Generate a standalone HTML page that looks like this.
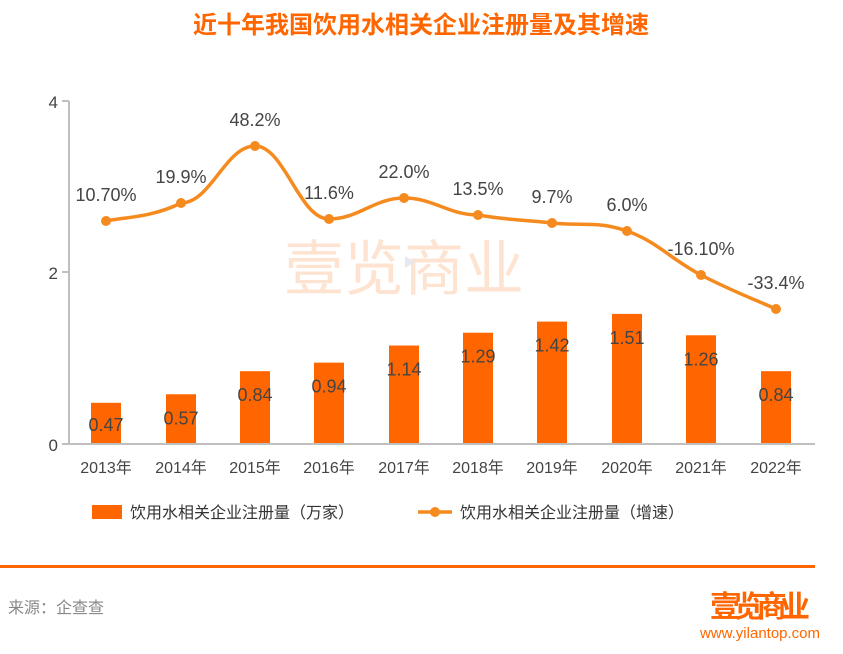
<!DOCTYPE html>
<html><head><meta charset="utf-8"><style>
body{margin:0;width:843px;height:649px;background:#fff;overflow:hidden;font-family:"Liberation Sans","Noto Sans CJK SC",sans-serif}
</style></head><body>
<svg width="843" height="649" xmlns="http://www.w3.org/2000/svg" font-family="Liberation Sans, Noto Sans CJK SC, sans-serif">
<text x="421" y="33" text-anchor="middle" font-size="24" font-weight="bold" fill="#ff6600" font-family="Noto Sans CJK SC, sans-serif">近十年我国饮用水相关企业注册量及其增速</text>
<g font-family="Noto Sans CJK SC, sans-serif" font-size="60" fill="#fde0cc" opacity="0.9">
<text x="284" y="290">壹览商业</text>
</g>
<polygon points="405,256 405,268 415,262" fill="#e8e8f0"/>
<line x1="69" y1="101" x2="69" y2="444" stroke="#bfbfbf" stroke-width="2"/>
<line x1="62" y1="101" x2="69" y2="101" stroke="#bfbfbf" stroke-width="2"/>
<line x1="62" y1="272" x2="69" y2="272" stroke="#bfbfbf" stroke-width="2"/>
<line x1="62" y1="444" x2="815" y2="444" stroke="#bfbfbf" stroke-width="2"/>
<g font-size="17" fill="#444" text-anchor="end">
<text x="58" y="108">4</text><text x="58" y="279">2</text><text x="58" y="451">0</text>
</g>
<g id="bars" fill="#ff6600"></g>
<g id="barlbl" font-size="18" fill="#444" text-anchor="middle"></g>
<g id="xl" font-size="16" fill="#444" text-anchor="middle" font-family="Liberation Sans, Noto Sans CJK SC, sans-serif"></g>
<path id="ln" fill="none" stroke="#f58a1f" stroke-width="3.5"/>
<g id="dots" fill="#f58a1f"></g>
<g id="pl" font-size="18" fill="#444" text-anchor="middle"></g>
<rect x="92" y="505" width="30" height="14" fill="#ff6600"/>
<text x="130" y="518" font-size="16" fill="#333">饮用水相关企业注册量（万家）</text>
<line x1="418" y1="512" x2="452" y2="512" stroke="#f58a1f" stroke-width="3.5"/>
<circle cx="435" cy="512" r="5" fill="#f58a1f"/>
<text x="460" y="518" font-size="16" fill="#333">饮用水相关企业注册量（增速）</text>
<rect x="0" y="565" width="815" height="3" fill="#ff6600"/>
<text x="8" y="613" font-size="16" fill="#888">来源：企查查</text>
<text x="710" y="617" font-size="30" font-weight="bold" fill="#ff6600" font-family="Noto Sans CJK SC, sans-serif" textLength="100">壹览商业</text>
<text x="760" y="638" text-anchor="middle" font-size="15" fill="#ff6600">www.yilantop.com</text>
</svg>
<script>
var xs=[106,181,255,329,404,478,552,627,701,776];
var bv=[0.47,0.57,0.84,0.94,1.14,1.29,1.42,1.51,1.26,0.84];
var ly=[221,203,146,219,198,215,223,231,275,309];
var pt=["10.70%","19.9%","48.2%","11.6%","22.0%","13.5%","9.7%","6.0%","-16.10%","-33.4%"];
var yrs=["2013年","2014年","2015年","2016年","2017年","2018年","2019年","2020年","2021年","2022年"];
var ns="http://www.w3.org/2000/svg";
function el(p,t,a,tx){var e=document.createElementNS(ns,t);for(var k in a)e.setAttribute(k,a[k]);if(tx)e.textContent=tx;document.getElementById(p).appendChild(e);}
for(var i=0;i<10;i++){
var h=bv[i]*85.5;
el("bars","rect",{x:xs[i]-15,y:443-h,width:30,height:h});
el("barlbl","text",{x:xs[i],y:443-h+Math.min(h*0.5,22)+8},bv[i].toFixed(2));
el("xl","text",{x:xs[i],y:473},yrs[i]);
el("dots","circle",{cx:xs[i],cy:ly[i],r:5});
el("pl","text",{x:xs[i],y:ly[i]-20},pt[i]);
}
var d="M"+xs[0]+","+ly[0];
for(var i=0;i<9;i++){
var p0=i>0?[xs[i-1],ly[i-1]]:[xs[i],ly[i]],p1=[xs[i],ly[i]],p2=[xs[i+1],ly[i+1]],p3=i<8?[xs[i+2],ly[i+2]]:p2;
var t=0.2;
var c1=[p1[0]+(p2[0]-p0[0])*t,p1[1]+(p2[1]-p0[1])*t];
var c2=[p2[0]-(p3[0]-p1[0])*t,p2[1]-(p3[1]-p1[1])*t];
if(i==1||i==2||i==3||i==4){c1[1]=p1[1];c2[1]=p2[1];}
d+=" C"+c1+" "+c2+" "+p2;
}
document.getElementById("ln").setAttribute("d",d);
</script>
</body></html>
